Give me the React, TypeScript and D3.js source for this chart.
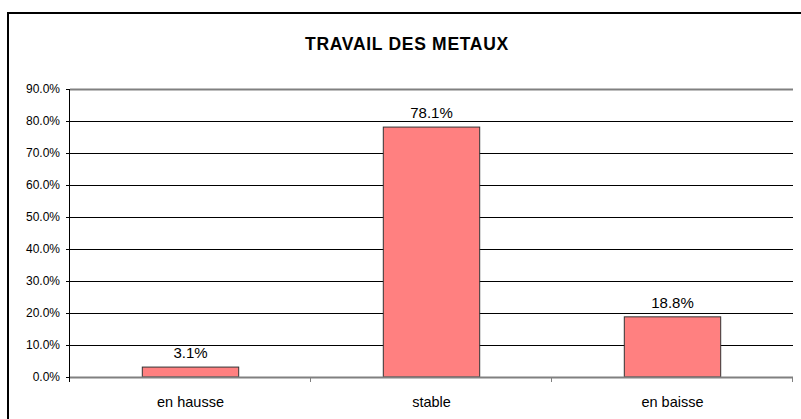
import React from "react";
import * as d3 from "d3";

const categories = ["en hausse", "stable", "en baisse"];
const values = [3.1, 78.1, 18.8];
const yTicks = [0, 10, 20, 30, 40, 50, 60, 70, 80, 90];
const title = "TRAVAIL DES METAUX";

const W = 801;
const H = 419;
const left = 70;
const right = 793;
const top = 89;
const bottom = 377;
const font = "Arial, 'Liberation Sans', sans-serif";

export default function App() {
  const x = d3.scaleBand<string>().domain(categories).range([left, right]).paddingInner(0).paddingOuter(0);
  const y = d3.scaleLinear().domain([0, 90]).range([bottom, top]);
  const bw = x.bandwidth() * 0.4;
  const fmt = (v: number) => v.toFixed(1) + "%";
  const bounds = [left, ...categories.map((c) => (x(c) as number) + x.bandwidth())];
  return (
    <svg width={W} height={H} style={{ position: "absolute", left: 0, top: 0, background: "#fff" }}>
      <rect x={0} y={0} width={W} height={H} fill="#fff" />
      <rect x={8} y={13} width={W + 10} height={H + 10} fill="none" stroke="#000" strokeWidth={2} />
      <text x={407} y={49.5} textAnchor="middle" fontFamily={font} fontWeight="bold" fontSize={17.5} letterSpacing={0.7} fill="#000">
        {title}
      </text>
      {yTicks.map((t) => (
        <g key={t}>
          {t > 0 && (
            <line x1={left} x2={right} y1={Math.round(y(t)) + 0.5} y2={Math.round(y(t)) + 0.5}
              stroke={t === 90 ? "#808080" : "#000"} strokeWidth={t === 90 ? 2 : 1} />
          )}
          <line x1={left - 4} x2={left} y1={Math.round(y(t)) + 0.5} y2={Math.round(y(t)) + 0.5} stroke="#000" />
          <text x={60} y={y(t) + 4} textAnchor="end" fontFamily={font} fontSize={12} fill="#000">
            {fmt(t)}
          </text>
        </g>
      ))}
      {categories.map((c, i) => {
        const cx = (x(c) as number) + x.bandwidth() / 2;
        const yt = y(values[i]);
        return (
          <g key={c}>
            <rect x={cx - bw / 2} y={yt} width={bw} height={bottom - yt} fill="#FF8080" stroke="#333" strokeWidth={1} />
            <text x={cx} y={yt - 9} textAnchor="middle" fontFamily={font} fontSize={15} fill="#000">
              {fmt(values[i])}
            </text>
            <text x={cx} y={407} textAnchor="middle" fontFamily={font} fontSize={14.5} fill="#000">
              {c}
            </text>
          </g>
        );
      })}
      <line x1={left} x2={right} y1={bottom + 0.5} y2={bottom + 0.5} stroke="#808080" strokeWidth={2} />
      {bounds.map((b, i) => (
        <line key={i} x1={Math.round(b) - 0.5} x2={Math.round(b) - 0.5} y1={bottom} y2={bottom + 5} stroke={i === 0 ? "#000" : "#808080"} />
      ))}
      <line x1={left - 0.5} x2={left - 0.5} y1={top} y2={bottom + 5} stroke="#000" />
    </svg>
  );
}
